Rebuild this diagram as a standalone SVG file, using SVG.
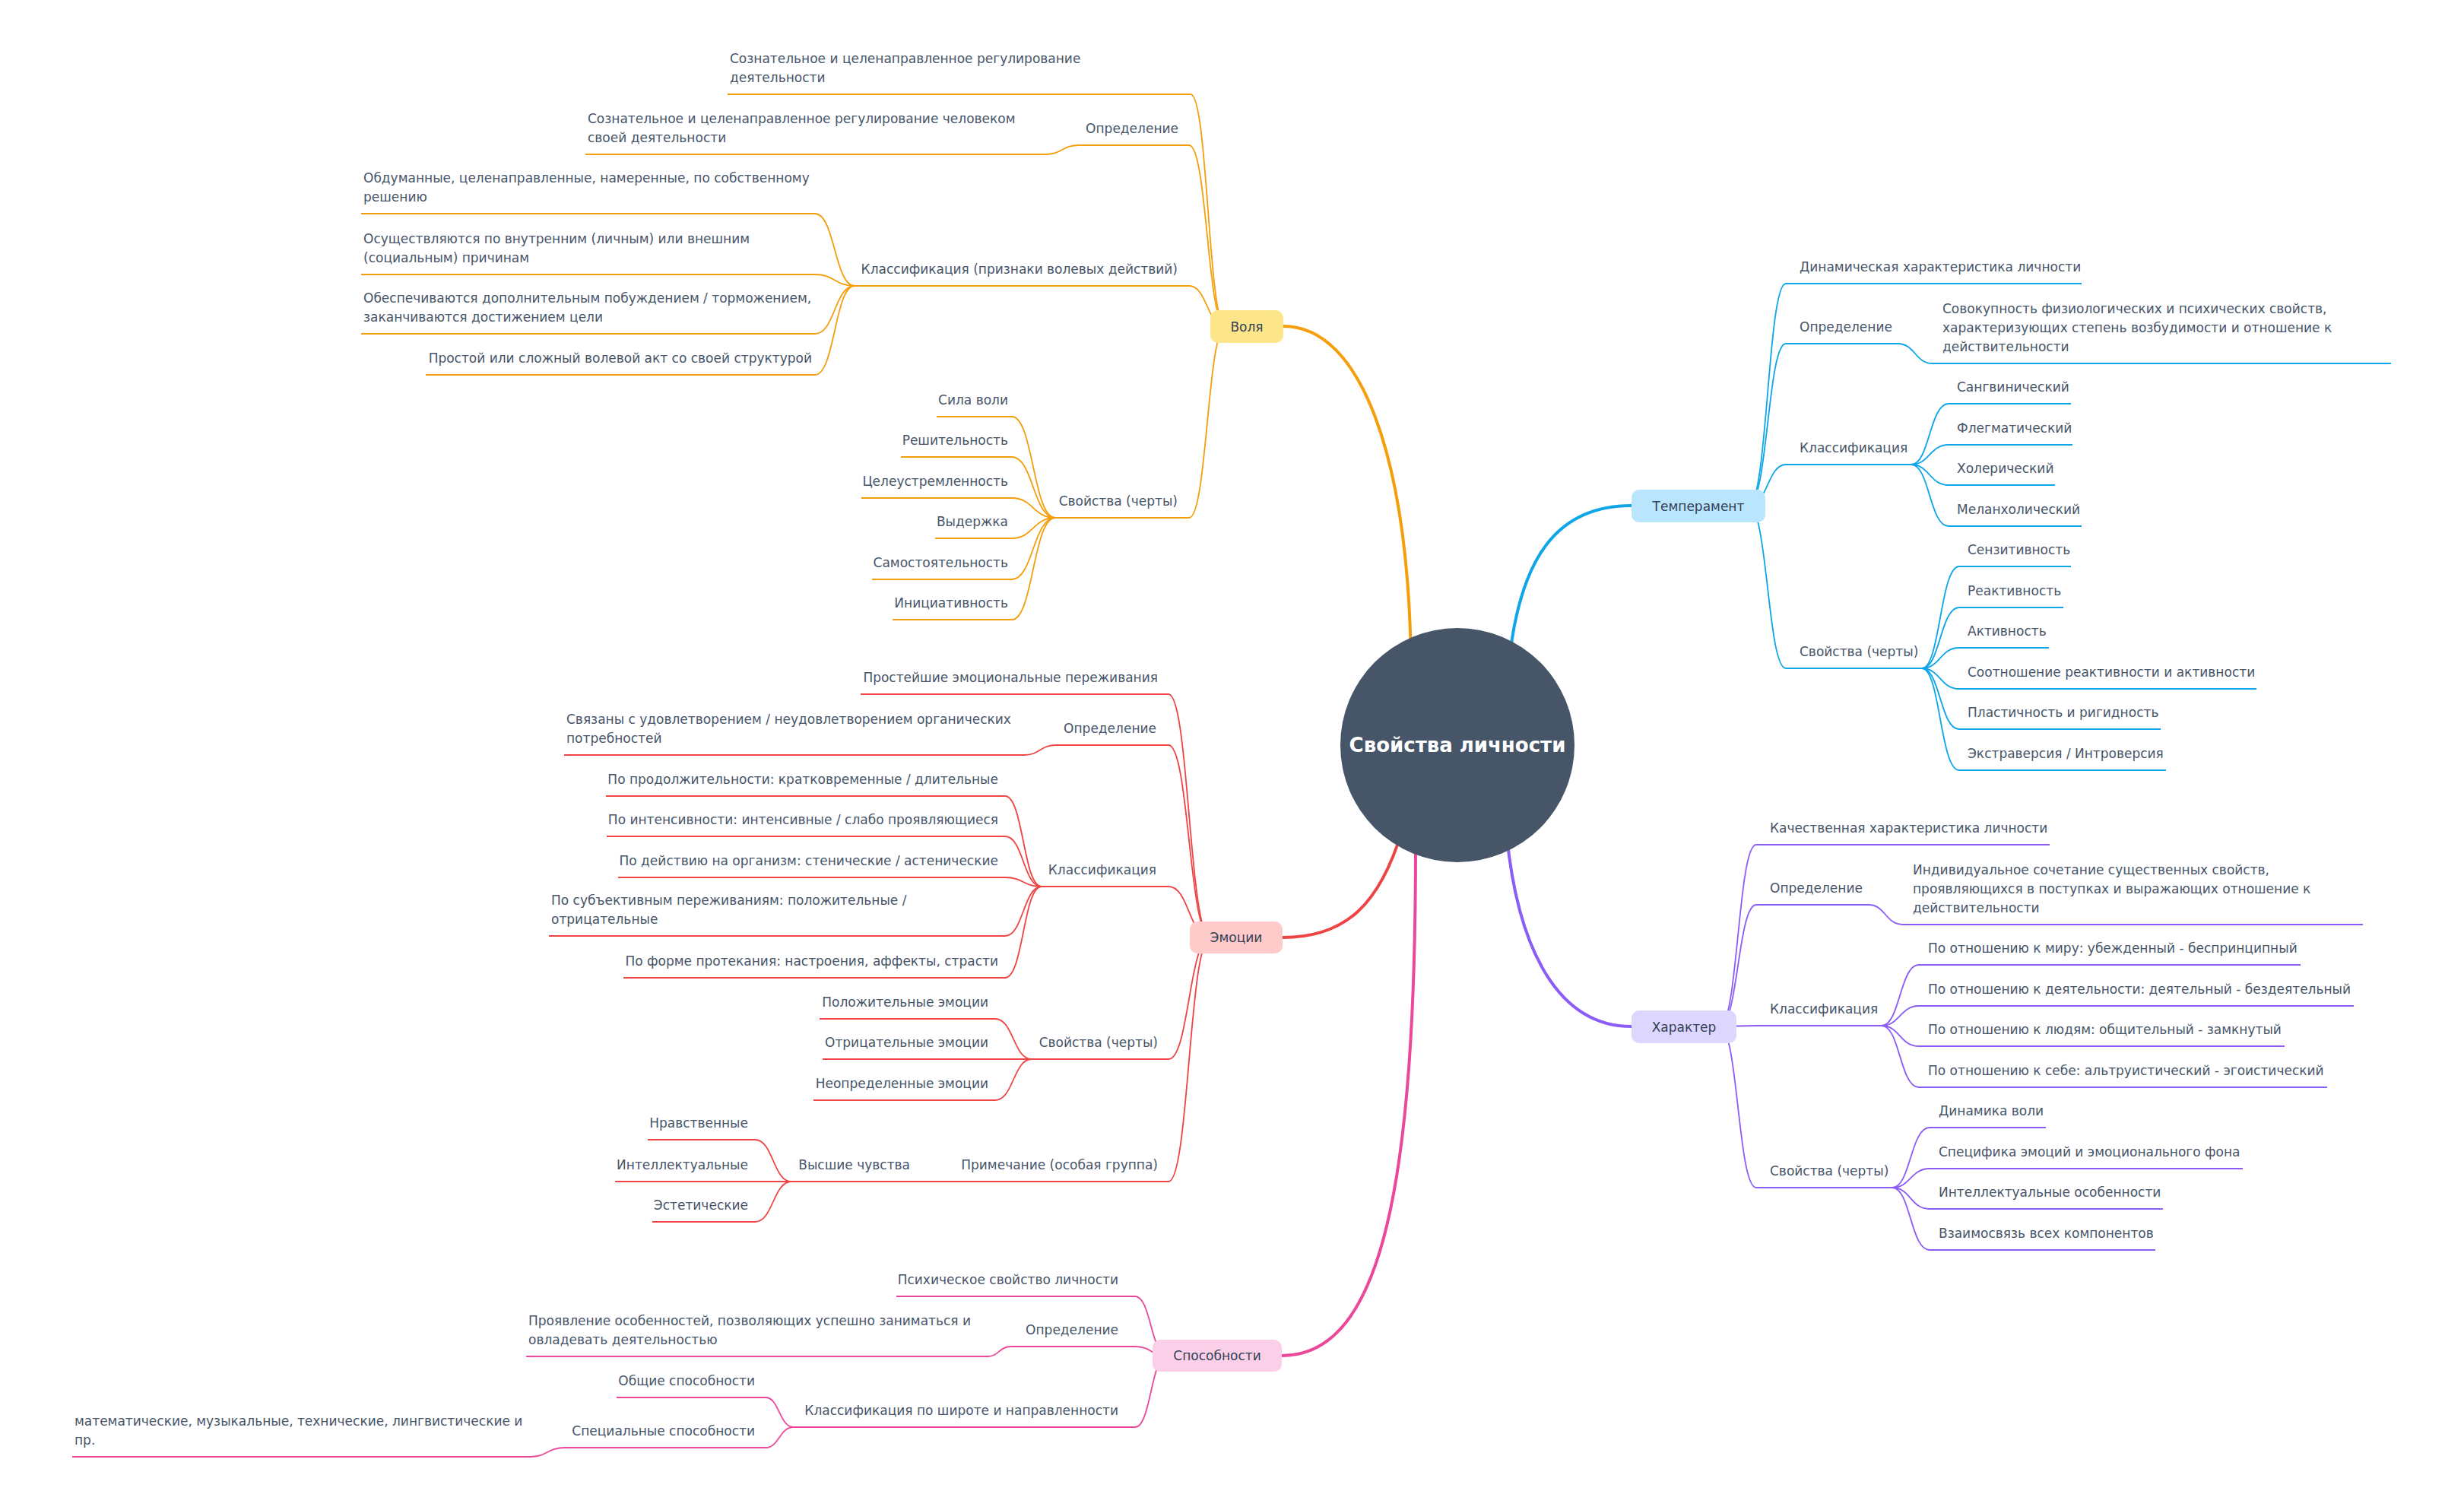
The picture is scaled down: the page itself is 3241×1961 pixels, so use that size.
<svg xmlns="http://www.w3.org/2000/svg" width="3241" height="1961" viewBox="0 0 3241 1961">
<style>
text{font-family:"DejaVu Sans",sans-serif;font-size:17px;fill:#475569}
.e{text-anchor:end}
.m{text-anchor:middle}
.bt{fill:#334155}
.root{font-size:26px;font-weight:bold;fill:#ffffff}
.u{fill:none;stroke-width:2.2}
.ln{fill:none;stroke-width:1.8}
.rl{fill:none;stroke-width:4}
.o{stroke:#f59e0b}.b{stroke:#0ea5e9}.r{stroke:#ef4444}.p{stroke:#8b5cf6}.k{stroke:#ec4899}
</style>
<rect width="3241" height="1961" fill="#ffffff"/>
<g id="connectors">
<path class="rl o" d="M1856,870 C1852,600 1790,429 1688,429"/>
<path class="rl b" d="M1985,870 C2000,730 2050,665 2146,665"/>
<path class="rl r" d="M1845,1090 C1815,1190 1770,1233 1687,1233"/>
<path class="rl p" d="M1982,1100 C1997,1250 2050,1350 2146,1350"/>
<path class="rl k" d="M1862,1110 C1862,1550 1820,1783 1686,1783"/>
<path class="ln o" d="M1612,430 C1589,430 1589,124 1566,124"/>
<path class="ln o" d="M1612,430 C1588,430 1588,191 1564,191"/>
<path class="ln o" d="M1612,430 C1588,430 1588,376 1564,376"/>
<path class="ln o" d="M1612,430 C1588,430 1588,681 1564,681"/>
<path class="ln o" d="M1419,191 C1397,191 1397,203 1375,203"/>
<path class="ln o" d="M1124,376 C1098,376 1098,281 1072,281"/>
<path class="ln o" d="M1124,376 C1098,376 1098,361 1072,361"/>
<path class="ln o" d="M1124,376 C1098,376 1098,439 1072,439"/>
<path class="ln o" d="M1124,376 C1098,376 1098,493 1072,493"/>
<path class="ln o" d="M1388,681 C1359,681 1359,548 1331,548"/>
<path class="ln o" d="M1388,681 C1359,681 1359,601 1331,601"/>
<path class="ln o" d="M1388,681 C1359,681 1359,655 1331,655"/>
<path class="ln o" d="M1388,681 C1359,681 1359,708 1331,708"/>
<path class="ln o" d="M1388,681 C1359,681 1359,762 1331,762"/>
<path class="ln o" d="M1388,681 C1359,681 1359,815 1331,815"/>
<path class="ln b" d="M2300,665 C2325,665 2325,373 2349,373"/>
<path class="ln b" d="M2300,665 C2325,665 2325,452 2349,452"/>
<path class="ln b" d="M2300,665 C2325,665 2325,611 2349,611"/>
<path class="ln b" d="M2300,665 C2325,665 2325,879 2349,879"/>
<path class="ln b" d="M2496,452 C2519,452 2519,478 2542,478"/>
<path class="ln b" d="M2514,611 C2538,611 2538,531 2563,531"/>
<path class="ln b" d="M2514,611 C2538,611 2538,585 2563,585"/>
<path class="ln b" d="M2514,611 C2538,611 2538,638 2563,638"/>
<path class="ln b" d="M2514,611 C2538,611 2538,692 2563,692"/>
<path class="ln b" d="M2528,879 C2552,879 2552,745 2577,745"/>
<path class="ln b" d="M2528,879 C2552,879 2552,799 2577,799"/>
<path class="ln b" d="M2528,879 C2552,879 2552,852 2577,852"/>
<path class="ln b" d="M2528,879 C2552,879 2552,906 2577,906"/>
<path class="ln b" d="M2528,879 C2552,879 2552,959 2577,959"/>
<path class="ln b" d="M2528,879 C2552,879 2552,1013 2577,1013"/>
<path class="ln p" d="M2262,1350 C2286,1350 2286,1111 2310,1111"/>
<path class="ln p" d="M2262,1350 C2286,1350 2286,1190 2310,1190"/>
<path class="ln p" d="M2262,1350 C2286,1350 2286,1349 2310,1349"/>
<path class="ln p" d="M2262,1350 C2286,1350 2286,1562 2310,1562"/>
<path class="ln p" d="M2458,1190 C2480,1190 2480,1216 2503,1216"/>
<path class="ln p" d="M2475,1349 C2499,1349 2499,1269 2524,1269"/>
<path class="ln p" d="M2475,1349 C2499,1349 2499,1323 2524,1323"/>
<path class="ln p" d="M2475,1349 C2499,1349 2499,1376 2524,1376"/>
<path class="ln p" d="M2475,1349 C2499,1349 2499,1430 2524,1430"/>
<path class="ln p" d="M2489,1562 C2513,1562 2513,1483 2538,1483"/>
<path class="ln p" d="M2489,1562 C2513,1562 2513,1537 2538,1537"/>
<path class="ln p" d="M2489,1562 C2513,1562 2513,1590 2538,1590"/>
<path class="ln p" d="M2489,1562 C2513,1562 2513,1644 2538,1644"/>
<path class="ln r" d="M1592,1233 C1564,1233 1564,913 1537,913"/>
<path class="ln r" d="M1592,1233 C1564,1233 1564,980 1537,980"/>
<path class="ln r" d="M1592,1233 C1564,1233 1564,1166 1537,1166"/>
<path class="ln r" d="M1592,1233 C1564,1233 1564,1393 1537,1393"/>
<path class="ln r" d="M1592,1233 C1564,1233 1564,1554 1537,1554"/>
<path class="ln r" d="M1389,980 C1368,980 1368,993 1347,993"/>
<path class="ln r" d="M1370,1166 C1346,1166 1346,1047 1322,1047"/>
<path class="ln r" d="M1370,1166 C1346,1166 1346,1100 1322,1100"/>
<path class="ln r" d="M1370,1166 C1346,1166 1346,1154 1322,1154"/>
<path class="ln r" d="M1370,1166 C1346,1166 1346,1231 1322,1231"/>
<path class="ln r" d="M1370,1166 C1346,1166 1346,1286 1322,1286"/>
<path class="ln r" d="M1357,1393 C1333,1393 1333,1340 1309,1340"/>
<path class="ln r" d="M1357,1393 C1333,1393 1333,1393 1309,1393"/>
<path class="ln r" d="M1357,1393 C1333,1393 1333,1447 1309,1447"/>
<path class="ln r" d="M1250,1554 L1210,1554"/>
<path class="ln r" d="M1041,1554 C1017,1554 1017,1499 993,1499"/>
<path class="ln r" d="M1041,1554 C1017,1554 1017,1554 993,1554"/>
<path class="ln r" d="M1041,1554 C1017,1554 1017,1607 993,1607"/>
<path class="ln k" d="M1535,1783 C1514,1783 1514,1705 1493,1705"/>
<path class="ln k" d="M1535,1783 C1514,1783 1514,1771 1493,1771"/>
<path class="ln k" d="M1535,1783 C1514,1783 1514,1877 1493,1877"/>
<path class="ln k" d="M1330,1771 C1314,1771 1314,1784 1299,1784"/>
<path class="ln k" d="M1044,1877 C1025,1877 1025,1838 1007,1838"/>
<path class="ln k" d="M1044,1877 C1025,1877 1025,1904 1007,1904"/>
<path class="ln k" d="M743,1904 C720,1904 720,1916 697,1916"/>
</g>

<g id="n-root"><circle cx="1917" cy="980" r="154" fill="#475569"/><text class="root m" x="1917" y="989">Свойства личности</text></g>

<g id="n-volya"><rect x="1592" y="408" width="96" height="43" rx="10" fill="#fde68a"/><text class="m bt" x="1640" y="436">Воля</text></g>
<g id="n-volya-1"><text x="960" y="83">Сознательное и целенаправленное регулирование</text><text x="960" y="108">деятельности</text><path class="u o" d="M957,124 H1566"/></g>
<g id="n-volya-def"><text class="e" x="1550" y="175">Определение</text><path class="u o" d="M1419,191 H1564"/></g>
<g id="n-volya-def-1"><text x="773" y="162">Сознательное и целенаправленное регулирование человеком</text><text x="773" y="187">своей деятельности</text><path class="u o" d="M770,203 H1375"/></g>
<g id="n-volya-cls"><text class="e" x="1549" y="360">Классификация (признаки волевых действий)</text><path class="u o" d="M1124,376 H1564"/></g>
<g id="n-volya-cls-1"><text x="478" y="240">Обдуманные, целенаправленные, намеренные, по собственному</text><text x="478" y="265">решению</text><path class="u o" d="M475,281 H1072"/></g>
<g id="n-volya-cls-2"><text x="478" y="320">Осуществляются по внутренним (личным) или внешним</text><text x="478" y="345">(социальным) причинам</text><path class="u o" d="M475,361 H1072"/></g>
<g id="n-volya-cls-3"><text x="478" y="398">Обеспечиваются дополнительным побуждением / торможением,</text><text x="478" y="423">заканчиваются достижением цели</text><path class="u o" d="M475,439 H1072"/></g>
<g id="n-volya-cls-4"><text class="e" x="1068" y="477">Простой или сложный волевой акт со своей структурой</text><path class="u o" d="M560,493 H1072"/></g>
<g id="n-volya-prop"><text class="e" x="1549" y="665">Свойства (черты)</text><path class="u o" d="M1388,681 H1564"/></g>
<g id="n-volya-prop-1"><text class="e" x="1326" y="532">Сила воли</text><path class="u o" d="M1232,548 H1331"/></g>
<g id="n-volya-prop-2"><text class="e" x="1326" y="585">Решительность</text><path class="u o" d="M1185,601 H1331"/></g>
<g id="n-volya-prop-3"><text class="e" x="1326" y="639">Целеустремленность</text><path class="u o" d="M1133,655 H1331"/></g>
<g id="n-volya-prop-4"><text class="e" x="1326" y="692">Выдержка</text><path class="u o" d="M1230,708 H1331"/></g>
<g id="n-volya-prop-5"><text class="e" x="1326" y="746">Самостоятельность</text><path class="u o" d="M1147,762 H1331"/></g>
<g id="n-volya-prop-6"><text class="e" x="1326" y="799">Инициативность</text><path class="u o" d="M1174,815 H1331"/></g>

<g id="n-temp"><rect x="2146" y="644" width="176" height="43" rx="10" fill="#bae6fd"/><text class="m bt" x="2234" y="672">Темперамент</text></g>
<g id="n-temp-1"><text x="2367" y="357">Динамическая характеристика личности</text><path class="u b" d="M2349,373 H2738"/></g>
<g id="n-temp-def"><text x="2367" y="436">Определение</text><path class="u b" d="M2349,452 H2496"/></g>
<g id="n-temp-def-1"><text x="2555" y="412">Совокупность физиологических и психических свойств,</text><text x="2555" y="437">характеризующих степень возбудимости и отношение к</text><text x="2555" y="462">действительности</text><path class="u b" d="M2542,478 H3145"/></g>
<g id="n-temp-cls"><text x="2367" y="595">Классификация</text><path class="u b" d="M2349,611 H2514"/></g>
<g id="n-temp-cls-1"><text x="2574" y="515">Сангвинический</text><path class="u b" d="M2563,531 H2724"/></g>
<g id="n-temp-cls-2"><text x="2574" y="569">Флегматический</text><path class="u b" d="M2563,585 H2726"/></g>
<g id="n-temp-cls-3"><text x="2574" y="622">Холерический</text><path class="u b" d="M2563,638 H2703"/></g>
<g id="n-temp-cls-4"><text x="2574" y="676">Меланхолический</text><path class="u b" d="M2563,692 H2738"/></g>
<g id="n-temp-prop"><text x="2367" y="863">Свойства (черты)</text><path class="u b" d="M2349,879 H2528"/></g>
<g id="n-temp-prop-1"><text x="2588" y="729">Сензитивность</text><path class="u b" d="M2577,745 H2724"/></g>
<g id="n-temp-prop-2"><text x="2588" y="783">Реактивность</text><path class="u b" d="M2577,799 H2714"/></g>
<g id="n-temp-prop-3"><text x="2588" y="836">Активность</text><path class="u b" d="M2577,852 H2695"/></g>
<g id="n-temp-prop-4"><text x="2588" y="890">Соотношение реактивности и активности</text><path class="u b" d="M2577,906 H2968"/></g>
<g id="n-temp-prop-5"><text x="2588" y="943">Пластичность и ригидность</text><path class="u b" d="M2577,959 H2842"/></g>
<g id="n-temp-prop-6"><text x="2588" y="997">Экстраверсия / Интроверсия</text><path class="u b" d="M2577,1013 H2849"/></g>

<g id="n-char"><rect x="2146" y="1329" width="138" height="43" rx="10" fill="#ddd6fe"/><text class="m bt" x="2215" y="1357">Характер</text></g>
<g id="n-char-1"><text x="2328" y="1095">Качественная характеристика личности</text><path class="u p" d="M2310,1111 H2696"/></g>
<g id="n-char-def"><text x="2328" y="1174">Определение</text><path class="u p" d="M2310,1190 H2458"/></g>
<g id="n-char-def-1"><text x="2516" y="1150">Индивидуальное сочетание существенных свойств,</text><text x="2516" y="1175">проявляющихся в поступках и выражающих отношение к</text><text x="2516" y="1200">действительности</text><path class="u p" d="M2503,1216 H3108"/></g>
<g id="n-char-cls"><text x="2328" y="1333">Классификация</text><path class="u p" d="M2310,1349 H2475"/></g>
<g id="n-char-cls-1"><text x="2536" y="1253">По отношению к миру: убежденный - беспринципный</text><path class="u p" d="M2524,1269 H3026"/></g>
<g id="n-char-cls-2"><text x="2536" y="1307">По отношению к деятельности: деятельный - бездеятельный</text><path class="u p" d="M2524,1323 H3096"/></g>
<g id="n-char-cls-3"><text x="2536" y="1360">По отношению к людям: общительный - замкнутый</text><path class="u p" d="M2524,1376 H3005"/></g>
<g id="n-char-cls-4"><text x="2536" y="1414">По отношению к себе: альтруистический - эгоистический</text><path class="u p" d="M2524,1430 H3061"/></g>
<g id="n-char-prop"><text x="2328" y="1546">Свойства (черты)</text><path class="u p" d="M2310,1562 H2489"/></g>
<g id="n-char-prop-1"><text x="2550" y="1467">Динамика воли</text><path class="u p" d="M2538,1483 H2691"/></g>
<g id="n-char-prop-2"><text x="2550" y="1521">Специфика эмоций и эмоционального фона</text><path class="u p" d="M2538,1537 H2950"/></g>
<g id="n-char-prop-3"><text x="2550" y="1574">Интеллектуальные особенности</text><path class="u p" d="M2538,1590 H2845"/></g>
<g id="n-char-prop-4"><text x="2550" y="1628">Взаимосвязь всех компонентов</text><path class="u p" d="M2538,1644 H2835"/></g>

<g id="n-emo"><rect x="1565" y="1212" width="122" height="42" rx="10" fill="#fecaca"/><text class="m bt" x="1626" y="1239">Эмоции</text></g>
<g id="n-emo-1"><text class="e" x="1523" y="897">Простейшие эмоциональные переживания</text><path class="u r" d="M1132,913 H1537"/></g>
<g id="n-emo-def"><text class="e" x="1521" y="964">Определение</text><path class="u r" d="M1389,980 H1537"/></g>
<g id="n-emo-def-1"><text x="745" y="952">Связаны с удовлетворением / неудовлетворением органических</text><text x="745" y="977">потребностей</text><path class="u r" d="M742,993 H1347"/></g>
<g id="n-emo-cls"><text class="e" x="1521" y="1150">Классификация</text><path class="u r" d="M1370,1166 H1537"/></g>
<g id="n-emo-cls-1"><text class="e" x="1313" y="1031">По продолжительности: кратковременные / длительные</text><path class="u r" d="M797,1047 H1322"/></g>
<g id="n-emo-cls-2"><text class="e" x="1313" y="1084">По интенсивности: интенсивные / слабо проявляющиеся</text><path class="u r" d="M798,1100 H1322"/></g>
<g id="n-emo-cls-3"><text class="e" x="1313" y="1138">По действию на организм: стенические / астенические</text><path class="u r" d="M813,1154 H1322"/></g>
<g id="n-emo-cls-4"><text x="725" y="1190">По субъективным переживаниям: положительные /</text><text x="725" y="1215">отрицательные</text><path class="u r" d="M722,1231 H1322"/></g>
<g id="n-emo-cls-5"><text class="e" x="1313" y="1270">По форме протекания: настроения, аффекты, страсти</text><path class="u r" d="M820,1286 H1322"/></g>
<g id="n-emo-prop"><text class="e" x="1523" y="1377">Свойства (черты)</text><path class="u r" d="M1357,1393 H1537"/></g>
<g id="n-emo-prop-1"><text class="e" x="1300" y="1324">Положительные эмоции</text><path class="u r" d="M1078,1340 H1309"/></g>
<g id="n-emo-prop-2"><text class="e" x="1300" y="1377">Отрицательные эмоции</text><path class="u r" d="M1082,1393 H1309"/></g>
<g id="n-emo-prop-3"><text class="e" x="1300" y="1431">Неопределенные эмоции</text><path class="u r" d="M1070,1447 H1309"/></g>
<g id="n-emo-note"><text class="e" x="1523" y="1538">Примечание (особая группа)</text><path class="u r" d="M1250,1554 H1537"/></g>
<g id="n-emo-note-1"><text class="e" x="1197" y="1538">Высшие чувства</text><path class="u r" d="M1041,1554 H1210"/></g>
<g id="n-emo-note-1-1"><text class="e" x="984" y="1483">Нравственные</text><path class="u r" d="M852,1499 H993"/></g>
<g id="n-emo-note-1-2"><text class="e" x="984" y="1538">Интеллектуальные</text><path class="u r" d="M809,1554 H993"/></g>
<g id="n-emo-note-1-3"><text class="e" x="984" y="1591">Эстетические</text><path class="u r" d="M858,1607 H993"/></g>

<g id="n-abil"><rect x="1516" y="1762" width="170" height="42" rx="10" fill="#fbcfe8"/><text class="m bt" x="1601" y="1789">Способности</text></g>
<g id="n-abil-1"><text class="e" x="1471" y="1689">Психическое свойство личности</text><path class="u k" d="M1179,1705 H1493"/></g>
<g id="n-abil-def"><text class="e" x="1471" y="1755">Определение</text><path class="u k" d="M1330,1771 H1493"/></g>
<g id="n-abil-def-1"><text x="695" y="1743">Проявление особенностей, позволяющих успешно заниматься и</text><text x="695" y="1768">овладевать деятельностью</text><path class="u k" d="M692,1784 H1299"/></g>
<g id="n-abil-cls"><text class="e" x="1471" y="1861">Классификация по широте и направленности</text><path class="u k" d="M1044,1877 H1493"/></g>
<g id="n-abil-cls-1"><text class="e" x="993" y="1822">Общие способности</text><path class="u k" d="M811,1838 H1007"/></g>
<g id="n-abil-cls-2"><text class="e" x="993" y="1888">Специальные способности</text><path class="u k" d="M743,1904 H1007"/></g>
<g id="n-abil-cls-2-1"><text x="98" y="1875">математические, музыкальные, технические, лингвистические и</text><text x="98" y="1900">пр.</text><path class="u k" d="M95,1916 H697"/></g>
</svg>
